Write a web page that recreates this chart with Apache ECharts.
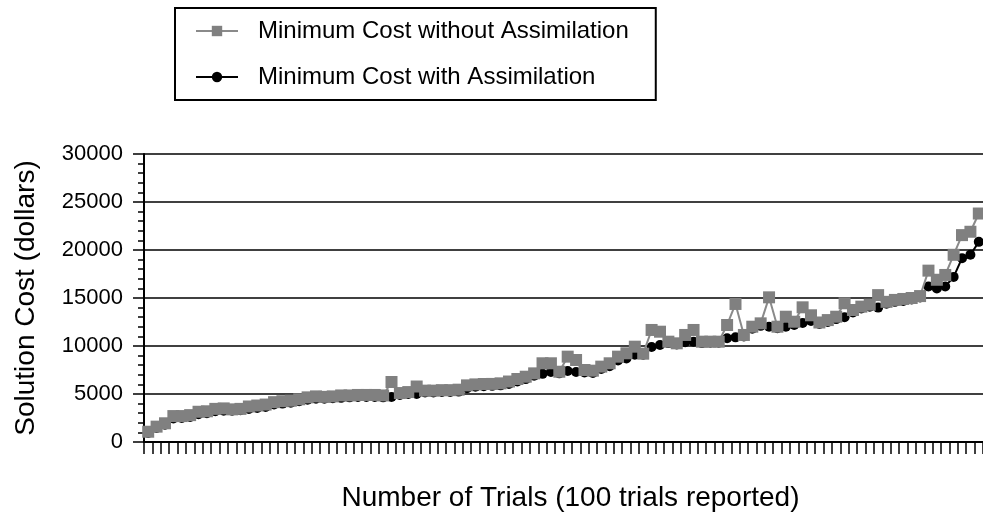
<!DOCTYPE html>
<html>
<head>
<meta charset="utf-8">
<title>Minimum Cost</title>
<script src="https://cdn.jsdelivr.net/npm/echarts@6/dist/echarts.min.js"></script>
<style>
  html, body { margin: 0; padding: 0; background: #fff; }
  #chart { width: 983px; height: 512px; }
</style>
</head>
<body>
<div id="chart"></div>
<script>
// 100 trials, sorted by cost
var trials = [];
for (var t = 1; t <= 100; t++) trials.push(String(t));

var costWithout = [
  1070, 1600, 1950, 2700, 2700, 2800, 3150, 3200, 3450, 3500,
  3400, 3450, 3700, 3800, 3900, 4150, 4250, 4300, 4450, 4650,
  4750, 4700, 4750, 4850, 4850, 4900, 4900, 4900, 4850, 6250,
  5100, 5200, 5780, 5350, 5350, 5400, 5400, 5450, 5900, 6000,
  6040, 6050, 6110, 6300, 6560, 6800, 7150, 8200, 8200, 7320,
  8890, 8540, 7500, 7430, 7850, 8200, 8890, 9240, 9930, 9200,
  11670, 11490, 10450, 10280, 11150, 11670, 10450, 10450, 10450, 12190,
  14380, 11150, 12010, 12360, 15070, 12010, 13050, 12530, 14030, 13200,
  12450, 12700, 13050, 14450, 13750, 14100, 14300, 15300, 14600, 14800,
  14900, 15000, 15200, 17850, 16900, 17400, 19500, 21550, 21900, 23800
];

var costWith = [
  950, 1450, 1800, 2450, 2500, 2600, 2900, 3000, 3200, 3250,
  3250, 3300, 3450, 3550, 3650, 3900, 4000, 4100, 4250, 4400,
  4500, 4500, 4550, 4600, 4650, 4700, 4700, 4700, 4650, 4700,
  4900, 5000, 5000, 5150, 5150, 5200, 5200, 5250, 5600, 5750,
  5800, 5850, 5900, 6050, 6300, 6550, 6900, 7100, 7300, 7150,
  7400, 7300, 7250, 7200, 7600, 7900, 8500, 8700, 9100, 9100,
  9900, 10100, 10300, 10150, 10400, 10450, 10300, 10350, 10350, 10800,
  10900, 11000, 11800, 12100, 12000, 11850, 12000, 12200, 12400, 12600,
  12300, 12500, 12800, 13000, 13500, 13900, 14100, 14000, 14400, 14600,
  14700, 14850, 15050, 16200, 16000, 16200, 17200, 19150, 19500, 20850
];

var font = '"Liberation Sans", Arial, Helvetica, sans-serif';

var chart = echarts.init(document.getElementById('chart'), null, { renderer: 'canvas' });

chart.setOption({
  backgroundColor: '#fff',
  animation: false,
  textStyle: { fontFamily: font, color: '#000' },
  legend: {
    orient: 'vertical',
    left: 175,
    top: 8,
    padding: [11, 27, 11, 20],
    borderColor: '#000',
    borderWidth: 2,
    itemWidth: 42,
    itemHeight: 13,
    itemGap: 22,
    data: ['Minimum Cost without Assimilation', 'Minimum Cost with Assimilation'],
    textStyle: { fontFamily: font, fontSize: 24, color: '#000', padding: [0, 0, 0, 15], lineHeight: 24 }
  },
  grid: { left: 144, right: 0, top: 154, bottom: 70, outerBoundsMode: 'none' },
  xAxis: {
    type: 'category',
    data: trials,
    name: 'Number of Trials (100 trials reported)',
    nameLocation: 'middle',
    nameGap: 42,
    nameTextStyle: { fontFamily: font, fontSize: 28, color: '#000', padding: [0, 0, 0, 14] },
    axisLine: { lineStyle: { color: '#000', width: 2 } },
    axisTick: { show: true, interval: 0, length: 12, lineStyle: { color: '#000', width: 1.5 } },
    axisLabel: { show: false, interval: 0 },
    splitLine: { show: false }
  },
  yAxis: {
    type: 'value',
    min: 0,
    max: 30000,
    interval: 5000,
    name: 'Solution Cost (dollars)',
    nameLocation: 'middle',
    nameGap: 104,
    nameTextStyle: { fontFamily: font, fontSize: 28, color: '#000' },
    axisLine: { show: true, lineStyle: { color: '#000', width: 2 } },
    axisTick: { show: true, length: 11, lineStyle: { color: '#000', width: 1.5 } },
    minorTick: { show: true, splitNumber: 5, length: 6, lineStyle: { color: '#000', width: 1.5 } },
    axisLabel: {
      fontFamily: font,
      fontSize: 22,
      color: '#000',
      margin: 21,
      formatter: function (v) { return String(v) }
    },
    splitLine: { show: true, lineStyle: { color: '#000', width: 1.5 } }
  },
  series: [
    {
      name: 'Minimum Cost with Assimilation',
      type: 'line',
      data: costWith,
      z: 2,
      symbol: 'circle',
      symbolSize: 10,
      showAllSymbol: true,
      color: '#000',
      lineStyle: { color: '#000', width: 2 },
      itemStyle: { color: '#000' }
    },
    {
      name: 'Minimum Cost without Assimilation',
      type: 'line',
      data: costWithout,
      z: 3,
      symbol: 'rect',
      symbolSize: 12,
      showAllSymbol: true,
      color: '#808080',
      lineStyle: { color: '#8a8a8a', width: 2 },
      itemStyle: { color: '#808080' }
    }
  ]
});
</script>
</body>
</html>
